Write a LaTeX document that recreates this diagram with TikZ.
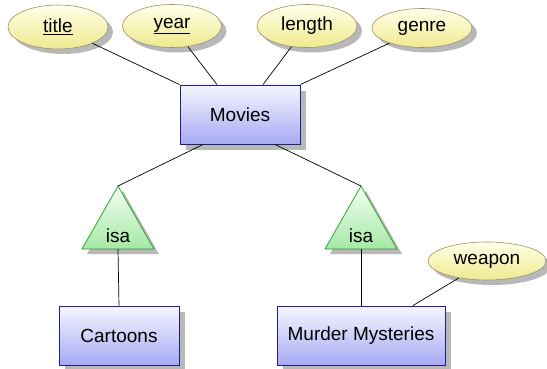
\documentclass[tikz,border=0pt]{standalone}
\usepackage{fontspec}
\setmainfont{Liberation Sans}
\usetikzlibrary{shapes.geometric}
\definecolor{entborder}{HTML}{1E1E8C}
\definecolor{enttop}{HTML}{F6F6FF}
\definecolor{entbot}{HTML}{A6AAF2}
\definecolor{attborder}{HTML}{9A9464}
\definecolor{atttop}{HTML}{FFFFEA}
\definecolor{attbot}{HTML}{F0EA8E}
\definecolor{isaborder}{HTML}{2A9E2A}
\definecolor{isatop}{HTML}{F2FFF2}
\definecolor{isabot}{HTML}{A6E8A6}
\definecolor{shadowgrey}{RGB}{184,184,184}
\tikzset{
  x=1pt, y=-1pt,
  lbl/.style={font=\fontsize{19}{22}\selectfont},
  entity/.style={lbl, draw=entborder, line width=0.9pt, top color=enttop, bottom color=entbot,
    rectangle, inner sep=0pt, minimum height=59pt},
  attr/.style={lbl, draw=attborder, line width=0.6pt, top color=atttop, bottom color=attbot,
    ellipse, inner sep=0pt},
  isatri/.style={draw=isaborder, line width=0.8pt, top color=isatop, bottom color=isabot},
  link/.style={draw=black, line width=0.7pt},
}
\begin{document}
\begin{tikzpicture}
\useasboundingbox (0,0) rectangle (547,369);

% grey offset shapes lying under the boxes, ellipses and triangles
\begin{scope}[shadowgrey]
\fill (186,91) rectangle (306,150);
\fill (65,312) rectangle (185,371);
\fill (283,312) rectangle (451,371);
\fill (63,32) ellipse [x radius=50, y radius=22];
\fill (177,31) ellipse [x radius=49.5, y radius=21.5];
\fill (312,31) ellipse [x radius=50, y radius=21.5];
\fill (427,33) ellipse [x radius=50, y radius=19.5];
\fill (492,266) ellipse [x radius=59, y radius=19];
\fill (123,191) -- (159,254) -- (87,254) -- cycle;
\fill (366,191) -- (402,254) -- (330,254) -- cycle;
\end{scope}

% attributes of Movies
\node[attr, minimum width=100pt, minimum height=44pt] (title) at (58,27) {\underline{title}};
\node[attr, minimum width=99pt, minimum height=43pt] (year) at (172,26) {\underline{year}};
\node[attr, minimum width=100pt, minimum height=43pt] (length) at (307,26) {length};
\node[attr, minimum width=100pt, minimum height=39pt] (genre) at (422,28) {genre};

% entities
\node[entity, minimum width=120pt] (movies) at (240,114.5) {Movies};
\node[entity, minimum width=120pt] (cartoons) at (119,335.5) {Cartoons};
\node[entity, minimum width=168pt] (murder) at (361,335.5) {Murder Mysteries};
\node[attr, minimum width=118pt, minimum height=38pt] (weapon) at (487,261) {weapon};

% isa triangles
\coordinate (isaLtop) at (118,186);
\coordinate (isaLbot) at (118,249);
\coordinate (isaRtop) at (361,186);
\coordinate (isaRbot) at (361,249);
\path[isatri] (isaLtop) -- (154,249) -- (82,249) -- cycle;
\path[isatri] (isaRtop) -- (397,249) -- (325,249) -- cycle;
\node[lbl, inner sep=0pt] (isaL) at (118,236) {isa};
\node[lbl, inner sep=0pt] (isaR) at (361,236) {isa};

% connectors
\draw[link] (title) -- (movies.north west);
\draw[link] (year) -- ([xshift=-23pt]movies.north);
\draw[link] (length) -- ([xshift=23pt]movies.north);
\draw[link] (genre) -- (movies.north east);
\draw[link] ([xshift=-37pt]movies.south) -- (isaLtop);
\draw[link] ([xshift=35pt]movies.south) -- (isaRtop);
\draw[link] (isaLbot) -- (cartoons.north);
\draw[link] (isaRbot) -- (murder.north);
\draw[link] (weapon) -- ([xshift=52pt]murder.north);
\end{tikzpicture}
\end{document}
